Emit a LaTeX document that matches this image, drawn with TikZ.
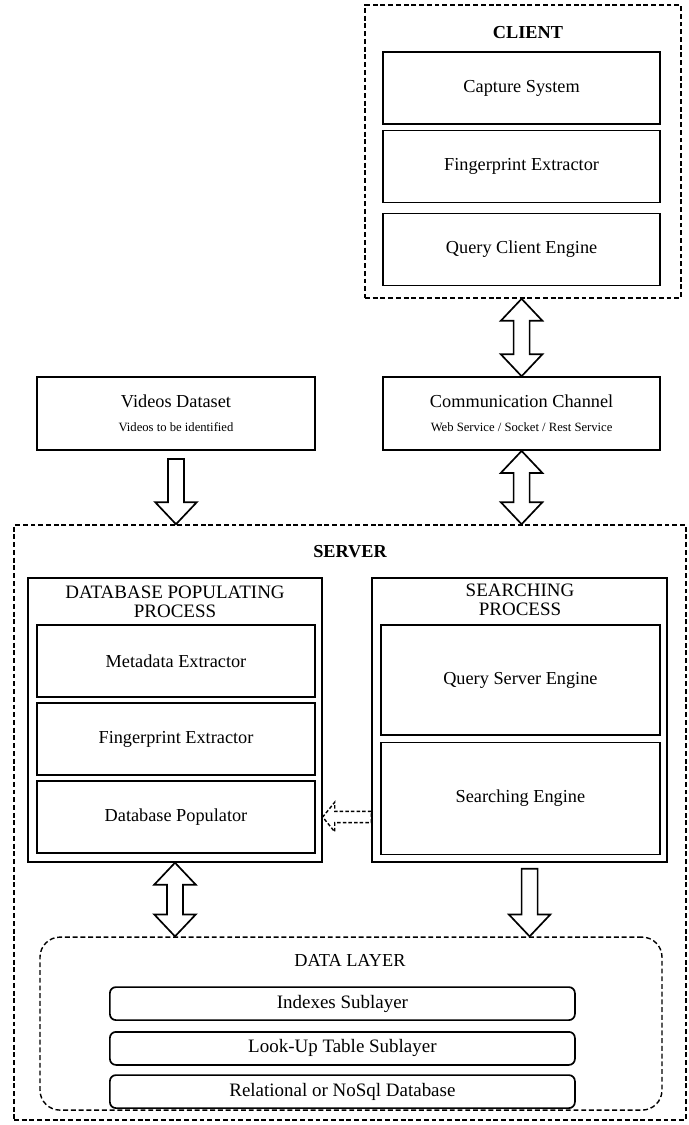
\documentclass[tikz,border=0pt]{standalone}
\usepackage{fontspec}
\setmainfont{Liberation Serif}
\usetikzlibrary{calc}

% hollow block arrows, drawn between two anchors
\newcommand{\fatdown}[3][]{%
  \draw[fat,#1] let \p1=#2, \p2=#3 in
    (\x1-0.2cm,\y1) -- (\x1+0.2cm,\y1) -- (\x1+0.2cm,\y2+0.55cm) -- (\x1+0.52cm,\y2+0.55cm)
    -- (\x1,\y2) -- (\x1-0.52cm,\y2+0.55cm) -- (\x1-0.2cm,\y2+0.55cm) -- cycle;}
\newcommand{\fatboth}[3][]{%
  \draw[fat,#1] let \p1=#2, \p2=#3 in
    (\x1,\y1) -- (\x1+0.52cm,\y1-0.55cm) -- (\x1+0.2cm,\y1-0.55cm) -- (\x1+0.2cm,\y2+0.55cm)
    -- (\x1+0.52cm,\y2+0.55cm) -- (\x1,\y2) -- (\x1-0.52cm,\y2+0.55cm) -- (\x1-0.2cm,\y2+0.55cm)
    -- (\x1-0.2cm,\y1-0.55cm) -- (\x1-0.52cm,\y1-0.55cm) -- cycle;}
\newcommand{\fatleft}[3][]{%
  \draw[fat,#1] let \p1=#2, \p2=#3 in
    (\x1,\y1-0.14cm) -- (\x1,\y1+0.14cm) -- (\x2+0.3cm,\y1+0.14cm) -- (\x2+0.3cm,\y1+0.37cm)
    -- (\x2,\y1) -- (\x2+0.3cm,\y1-0.37cm) -- (\x2+0.3cm,\y1-0.14cm) -- cycle;}
\newcommand{\subtxt}[1]{{\fontsize{9}{11}\selectfont #1}}

\begin{document}
\begin{tikzpicture}[font=\fontsize{13}{15}\selectfont]
   \useasboundingbox (0,0) rectangle (17.2,-28.125);
   \tikzstyle{box}=[draw, line width=1.2pt, inner sep=0pt]
   \tikzstyle{frame}=[draw, line width=1pt, inner sep=0pt]
   \tikzstyle{outer}=[draw, line width=1pt, dash pattern=on 3.5pt off 2pt, inner sep=0pt]
   \tikzstyle{layer}=[draw, line width=1.2pt, rounded corners=0.15cm, minimum width=11.625cm, minimum height=0.825cm, inner sep=0pt, font=\fontsize{13.5}{15}\selectfont]
   \tikzstyle{fat}=[draw, line width=1.2pt, line join=miter]
   % client side
   \node[outer, minimum width=7.9cm, minimum height=7.325cm] (client) at (13.075,-3.79) {};
   \node[font=\fontsize{13}{15}\selectfont\bfseries] (clienttitle) at (13.2,-0.825) {CLIENT};
   \foreach \y/\name/\txt in {-2.2/cap/{Capture System},-4.16/cfe/{Fingerprint Extractor},-6.24/qce/{Query Client Engine}} {
       \node[box, minimum width=6.925cm, minimum height=1.8cm] (\name) at (13.04,\y) {\txt};
   }
   \node[box, minimum width=6.925cm, minimum height=1.825cm, align=center] (comm) at (13.04,-10.34)
       {Communication Channel\\[2pt]\subtxt{Web Service / Socket / Rest Service}};
   \node[box, minimum width=6.95cm, minimum height=1.825cm, align=center] (vid) at (4.4,-10.34)
       {Videos Dataset\\[2pt]\subtxt{Videos to be identified}};
   % server side
   \node[outer, minimum width=16.8cm, minimum height=14.875cm] (server) at (8.75,-20.56) {};
   \node[font=\fontsize{13}{15}\selectfont\bfseries] (servertitle) at (8.75,-13.78) {SERVER};
   \node[frame, minimum width=7.35cm, minimum height=7.1cm] (dbp) at (4.375,-18.0) {};
   \node[align=center, font=\fontsize{13.5}{13.5}\selectfont] (dbptitle) at (4.375,-15.05) {DATABASE POPULATING\\PROCESS};
   \foreach \y/\name/\txt in {-16.525/meta/{Metadata Extractor},-18.475/sfe/{Fingerprint Extractor},-20.425/pop/{Database Populator}} {
       \node[box, minimum width=6.95cm, minimum height=1.8cm] (\name) at (4.4,\y) {\txt};
   }
   \node[frame, minimum width=7.375cm, minimum height=7.1cm] (srch) at (12.99,-18.0) {};
   \node[align=center, font=\fontsize{13.5}{13.5}\selectfont] (srchtitle) at (13.0,-15.0) {SEARCHING\\PROCESS};
   \node[box, minimum width=6.975cm, minimum height=2.75cm] (qse) at (13.01,-17.0) {Query Server Engine};
   \node[box, minimum width=6.975cm, minimum height=2.8cm] (seng) at (13.01,-19.96) {Searching Engine};
   % data layer
   \node[outer, rounded corners=0.5cm, minimum width=15.55cm, minimum height=4.325cm] (data) at (8.775,-25.59) {};
   \node (datatitle) at (8.75,-24.0) {DATA LAYER};
   \foreach \y/\name/\txt in {-25.09/idx/{Indexes Sublayer},-26.21/lut/{Look-Up Table Sublayer},-27.29/rdb/{Relational or NoSql Database}} {
       \node[layer] (\name) at (8.56,\y) {\txt};
   }
   % arrows
   \fatboth{(comm.north |- client.south)}{(comm.north)}
   \fatboth{(comm.south)}{(comm.south |- server.north)}
   \fatdown{($(vid.south)+(0,-0.2)$)}{(vid.south |- server.north)}
   \fatboth{(dbp.south)}{(dbp.south |- data.north)}
   \fatdown{($(srch.south)+(0.25,-0.15)$)}{(data.north)}
   \fatleft[dash pattern=on 2.5pt off 1.5pt, line width=1pt]{(srch.west |- pop)}{(dbp.east)}
\end{tikzpicture}
\end{document}
